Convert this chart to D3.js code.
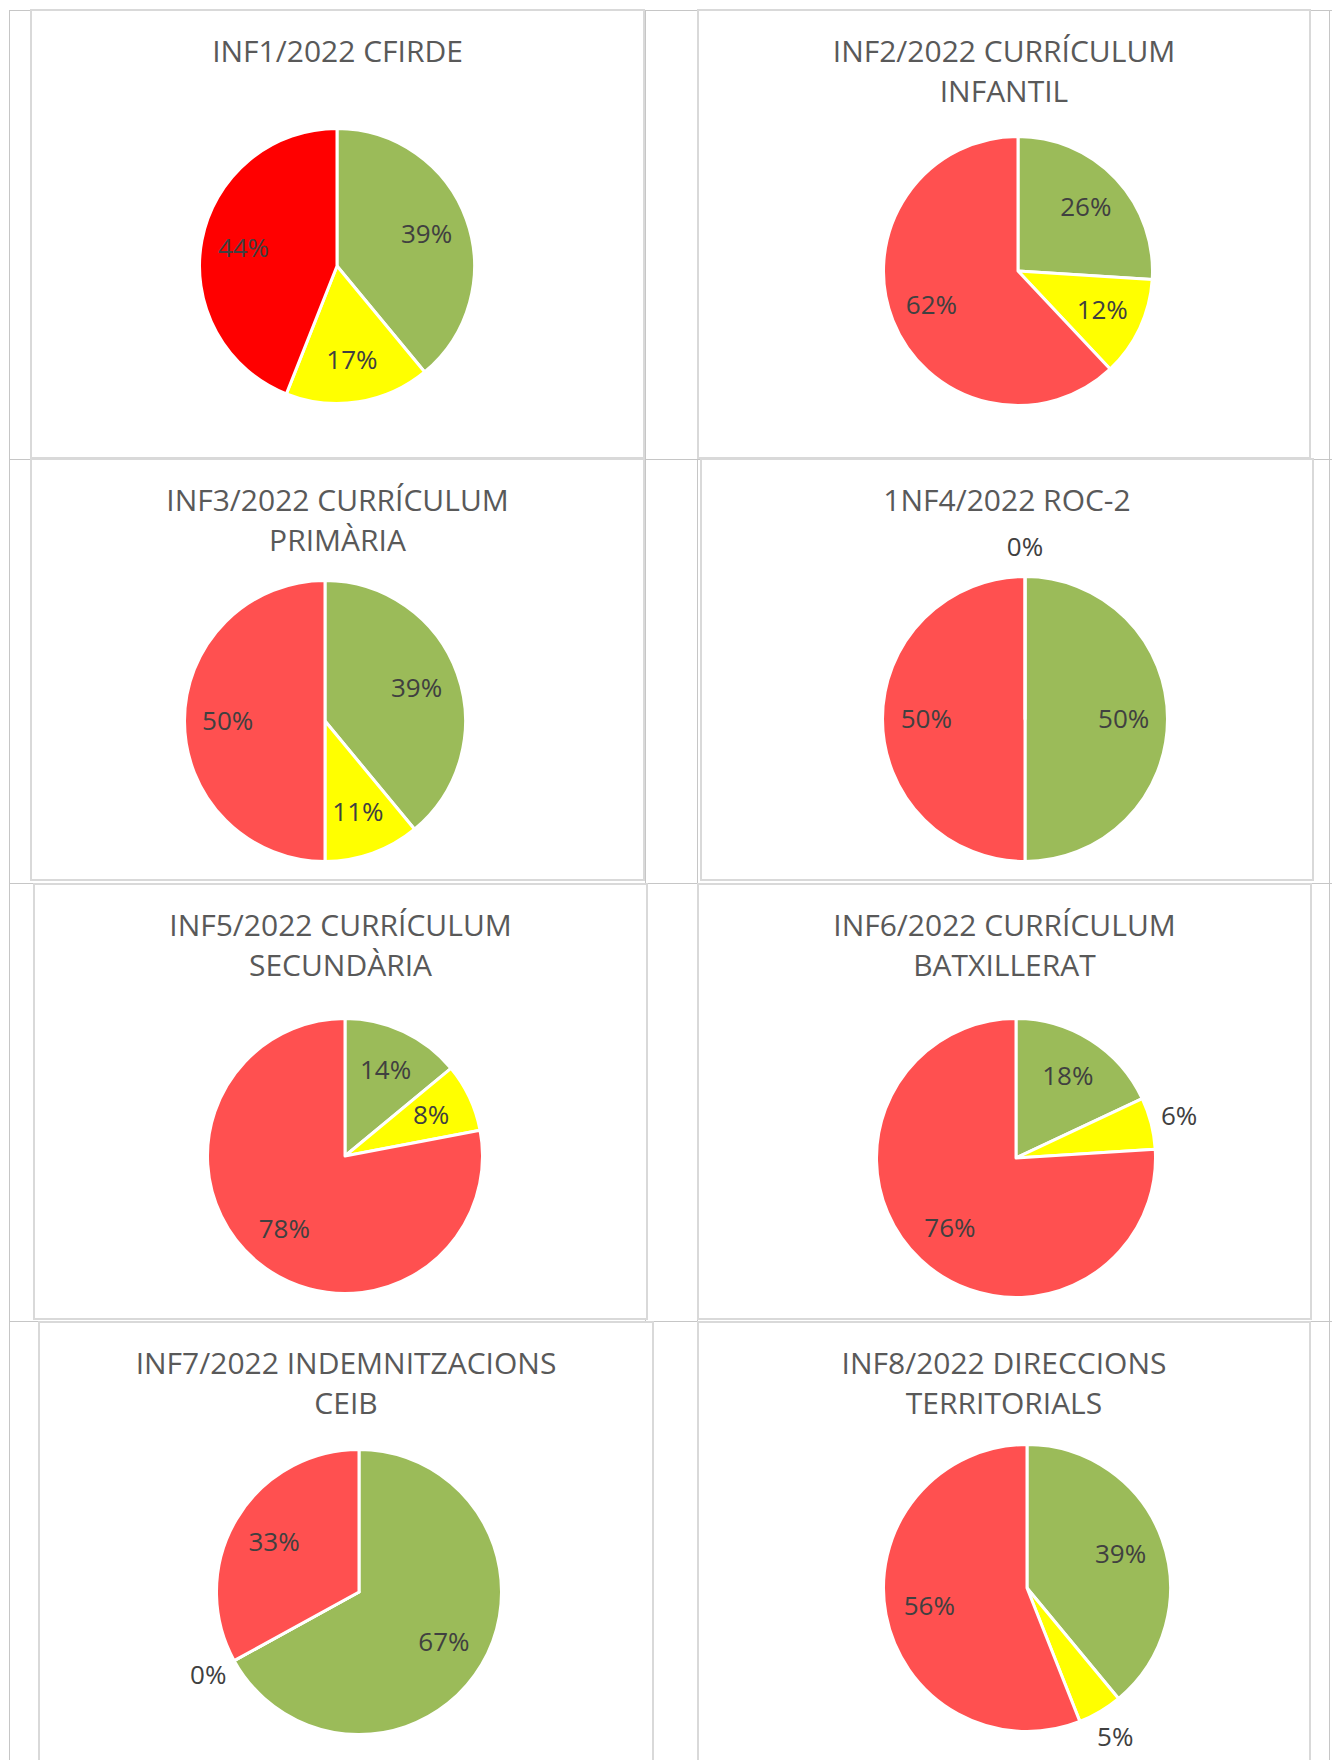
<!DOCTYPE html>
<html>
<head>
<meta charset="utf-8">
<script src="https://cdn.jsdelivr.net/npm/d3@7"></script>
<style>
    body { margin: 0; background: #ffffff; }
    svg { display: block; }
</style>
</head>
<body>
<svg id="svg1"></svg>
<script>

// data (percentages per report)
const titols = [
    ["INF1/2022 CFIRDE"],
    ["INF2/2022 CURRÍCULUM", "INFANTIL"],
    ["INF3/2022 CURRÍCULUM", "PRIMÀRIA"],
    ["1NF4/2022 ROC-2"],
    ["INF5/2022 CURRÍCULUM", "SECUNDÀRIA"],
    ["INF6/2022 CURRÍCULUM", "BATXILLERAT"],
    ["INF7/2022 INDEMNITZACIONS", "CEIB"],
    ["INF8/2022 DIRECCIONS", "TERRITORIALS"]
];
const categories = ["verd", "groc", "vermell"];
const verd    = [39, 26, 39, 50, 14, 18, 67, 39];
const groc    = [17, 12, 11,  0,  8,  6,  0,  5];
const vermell = [44, 62, 50, 50, 78, 76, 33, 56];
// order of the slices going clockwise from 12 o'clock (indices into categories)
const ordre = [
    [0, 1, 2], [0, 1, 2], [0, 1, 2], [0, 2, 1],
    [0, 1, 2], [0, 1, 2], [0, 1, 2], [0, 1, 2]
];

// layout of the Word table and of each chart frame
const canvasWidth = 1332;
const canvasHeight = 1760;
const panels = [
    { x0: 31,  y0: 10,   x1: 644,  y1: 458,  cx: 337,  cy: 266,  r: 136 },
    { x0: 698, y0: 10,   x1: 1310, y1: 458,  cx: 1018, cy: 271,  r: 133 },
    { x0: 31,  y0: 459,  x1: 644,  y1: 880,  cx: 325,  cy: 721,  r: 139 },
    { x0: 701, y0: 459,  x1: 1313, y1: 880,  cx: 1025, cy: 719,  r: 141 },
    { x0: 34,  y0: 884,  x1: 647,  y1: 1319, cx: 345,  cy: 1156, r: 136 },
    { x0: 698, y0: 884,  x1: 1311, y1: 1319, cx: 1016, cy: 1158, r: 138 },
    { x0: 39,  y0: 1322, x1: 653,  y1: 1780, cx: 359,  cy: 1592, r: 141 },
    { x0: 698, y0: 1322, x1: 1310, y1: 1780, cx: 1027, cy: 1588, r: 142 }
];
const colorsDefault = { verd: "#9BBB59", groc: "#FFFF00", vermell: "#FF5050" };
const colorsFirst   = { verd: "#9BBB59", groc: "#FFFF00", vermell: "#FF0000" };

function main() {
    let svg = d3.select("#svg1")
        .attr("width", canvasWidth)
        .attr("height", canvasHeight);

    // table grid lines (visible in the gaps between the chart frames)
    let grid = svg.append("g").attr("stroke", "#c6c6c6").attr("stroke-width", 1);
    [10.5, 459.5, 883.5, 1321.5].forEach(function(y) {
        grid.append("line").attr("x1", 9).attr("x2", canvasWidth).attr("y1", y).attr("y2", y);
    });
    [9.5, 645.5, 697.5, 1329.5].forEach(function(x) {
        grid.append("line").attr("x1", x).attr("x2", x).attr("y1", 10).attr("y2", canvasHeight);
    });

    panels.forEach(function(p, i) {
        let values = ordre[i].map(function(k) {
            let v = [verd, groc, vermell][k][i];
            return { cat: categories[k], value: v };
        });
        drawPie(svg, p, titols[i], values, i === 0 ? colorsFirst : colorsDefault);
    });
}

function drawPie(svg, p, titol, values, colors) {
    let g = svg.append("g");

    // chart frame
    g.append("rect")
        .attr("x", p.x0)
        .attr("y", p.y0)
        .attr("width", p.x1 - p.x0)
        .attr("height", p.y1 - p.y0)
        .attr("fill", "#ffffff")
        .attr("stroke", "#d9d9d9")
        .attr("stroke-width", 2);

    // title, one or two lines
    let mid = (p.x0 + p.x1) / 2;
    g.append("text")
        .attr("text-anchor", "middle")
        .attr("font-family", "'Open Sans', 'Noto Sans', sans-serif")
        .attr("font-size", "30px")
        .attr("fill", "#595959")
        .selectAll("tspan")
        .data(titol)
        .join("tspan")
        .attr("x", mid)
        .attr("y", function(d, j) { return p.y0 + 52 + j * 40; })
        .text(function(d) { return d; });

    let pie = d3.pie()
        .sort(null)
        .value(function(d) { return d.value; });
    let arcs = pie(values);

    let arc = d3.arc()
        .innerRadius(0)
        .outerRadius(p.r + 1.5);

    let pg = g.append("g")
        .attr("transform", "translate(" + p.cx + "," + p.cy + ")");

    pg.selectAll("path")
        .data(arcs)
        .join("path")
        .attr("d", arc)
        .attr("fill", function(d) { return colors[d.data.cat]; })
        .attr("stroke", "#ffffff")
        .attr("stroke-width", 3)
        .attr("stroke-linejoin", "round");

    // data labels: inside for big slices, outside for the small ones
    pg.selectAll("text")
        .data(arcs)
        .join("text")
        .attr("transform", function(d) {
            let a = (d.startAngle + d.endAngle) / 2;
            let k = d.data.value < 7 ? 1.22 : 0.7;
            return "translate(" + (Math.sin(a) * p.r * k) + "," + (-Math.cos(a) * p.r * k) + ")";
        })
        .attr("text-anchor", "middle")
        .attr("dy", "0.34em")
        .attr("font-family", "'Open Sans', 'Noto Sans', sans-serif")
        .attr("font-size", "26px")
        .attr("fill", "#404040")
        .text(function(d) { return d.data.value + "%"; });
}

main();
</script>
</body>
</html>
